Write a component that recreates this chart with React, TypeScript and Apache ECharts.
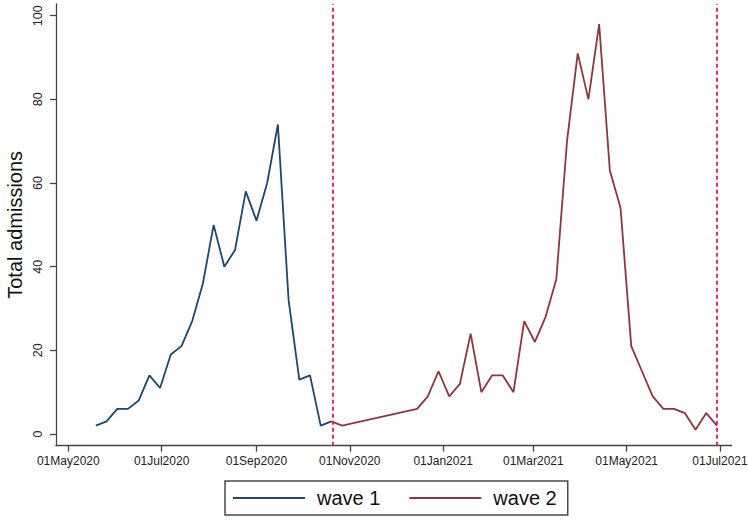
import React, { useEffect, useRef } from "react";
import * as echarts from "echarts";

const wave1Dates = [
  "2020-05-19", "2020-05-26", "2020-06-02", "2020-06-09", "2020-06-16", "2020-06-23",
  "2020-06-30", "2020-07-07", "2020-07-14", "2020-07-21", "2020-07-28", "2020-08-04",
  "2020-08-11", "2020-08-18", "2020-08-25", "2020-09-01", "2020-09-08", "2020-09-15",
  "2020-09-22", "2020-09-29", "2020-10-06", "2020-10-13", "2020-10-20",
];
const wave1Values = [2, 3, 6, 6, 8, 14, 11, 19, 21, 27, 36, 50, 40, 44, 58, 51, 60, 74, 32, 13, 14, 2, 3];

const wave2Dates = [
  "2020-10-20", "2020-10-27", "2020-12-15", "2020-12-22", "2020-12-29", "2021-01-05",
  "2021-01-12", "2021-01-19", "2021-01-26", "2021-02-02", "2021-02-09", "2021-02-16",
  "2021-02-23", "2021-03-02", "2021-03-09", "2021-03-16", "2021-03-23", "2021-03-30",
  "2021-04-06", "2021-04-13", "2021-04-20", "2021-04-27", "2021-05-04", "2021-05-11",
  "2021-05-18", "2021-05-25", "2021-06-01", "2021-06-08", "2021-06-15", "2021-06-22",
  "2021-06-29",
];
const wave2Values = [3, 2, 6, 9, 15, 9, 12, 24, 10, 14, 14, 10, 27, 22, 28, 37, 70, 91, 80, 98, 63, 54, 21, 15, 9, 6, 6, 5, 1, 5, 2];

const xTickDates = [
  "2020-05-01", "2020-07-01", "2020-09-01", "2020-11-01",
  "2021-01-01", "2021-03-01", "2021-05-01", "2021-07-01",
];
const yTickValues = [0, 20, 40, 60, 80, 100];
const cutoffDates = ["2020-10-21", "2021-06-29"];
const seriesNames = ["wave 1", "wave 2"];

const MONTHS = ["Jan", "Feb", "Mar", "Apr", "May", "Jun", "Jul", "Aug", "Sep", "Oct", "Nov", "Dec"];
const ts = (s: string) => new Date(s + "T00:00:00Z").getTime();
const DAY = 86400000;

export default function App() {
  const ref = useRef<HTMLDivElement>(null);
  useEffect(() => {
    if (!ref.current) return;
    const chart = echarts.init(ref.current, null, { renderer: "svg" });
    const font = "'Liberation Sans', Arial, sans-serif";
    const xMin = ts("2020-05-01") - 8.04 * DAY;
    const xMax = ts("2020-05-01") + 433.65 * DAY;
    chart.setOption({
      animation: false,
      backgroundColor: "#ffffff",
      grid: {
        left: 56,
        right: 16.3,
        top: 4,
        bottom: 75.3,
        containLabel: false,
        outerBoundsMode: "none",
      },
      legend: {
        left: 225,
        top: 481,
        orient: "horizontal",
        data: seriesNames,
        icon: "rect",
        itemWidth: 72,
        itemHeight: 2,
        itemGap: 29,
        borderColor: "#4a4a4a",
        borderWidth: 1.5,
        padding: [7, 11, 7, 8],
        textStyle: {
          fontFamily: font,
          fontSize: 20,
          color: "#111",
          padding: [0, 0, 0, 7],
        },
      },
      xAxis: {
        type: "value",
        min: xMin,
        max: xMax,
        splitLine: { show: false },
        axisLine: { show: true, onZero: false, lineStyle: { color: "#444", width: 1.3 } },
        axisTick: {
          show: true,
          length: 6,
          lineStyle: { color: "#444", width: 1.3 },
          customValues: xTickDates.map(ts),
        },
        axisLabel: {
          customValues: xTickDates.map(ts),
          fontFamily: font,
          fontSize: 12,
          color: "#222",
          margin: 9,
          hideOverlap: false,
          formatter: (v: number) => {
            const d = new Date(v);
            const day = String(d.getUTCDate()).padStart(2, "0");
            return `${day}${MONTHS[d.getUTCMonth()]}${d.getUTCFullYear()}`;
          },
        },
      },
      yAxis: {
        type: "value",
        min: -2.8,
        max: 102.8,
        name: "Total admissions",
        nameLocation: "middle",
        nameRotate: 90,
        nameGap: 31,
        nameMoveOverlap: false,
        nameTextStyle: {
          fontFamily: font,
          fontSize: 20,
          color: "#111",
        },
        splitLine: { show: false },
        axisLine: { show: true, onZero: false, lineStyle: { color: "#444", width: 1.3 } },
        axisTick: {
          show: true,
          length: 6,
          lineStyle: { color: "#444", width: 1.3 },
          customValues: yTickValues,
        },
        axisLabel: {
          customValues: yTickValues,
          rotate: 90,
          fontFamily: font,
          fontSize: 12.5,
          color: "#222",
          margin: 12,
        },
      },
      series: [
        {
          name: seriesNames[0],
          type: "line",
          symbol: "none",
          showSymbol: false,
          color: "#1a476f",
          lineStyle: { color: "#1a476f", width: 1.8 },
          data: wave1Dates.map((d, i) => [ts(d), wave1Values[i]]),
          markLine: {
            silent: true,
            symbol: ["none", "none"],
            label: { show: false },
            lineStyle: { color: "#e31a44", width: 1.8, type: [4, 3] },
            data: cutoffDates.map((d) => ({ xAxis: ts(d) })),
          },
        },
        {
          name: seriesNames[1],
          type: "line",
          symbol: "none",
          showSymbol: false,
          color: "#90353b",
          lineStyle: { color: "#90353b", width: 1.8 },
          data: wave2Dates.map((d, i) => [ts(d), wave2Values[i]]),
        },
      ],
    });
    return () => chart.dispose();
  }, []);
  return <div ref={ref} style={{ width: 748, height: 521, position: "absolute", left: 0, top: 0 }} />;
}
